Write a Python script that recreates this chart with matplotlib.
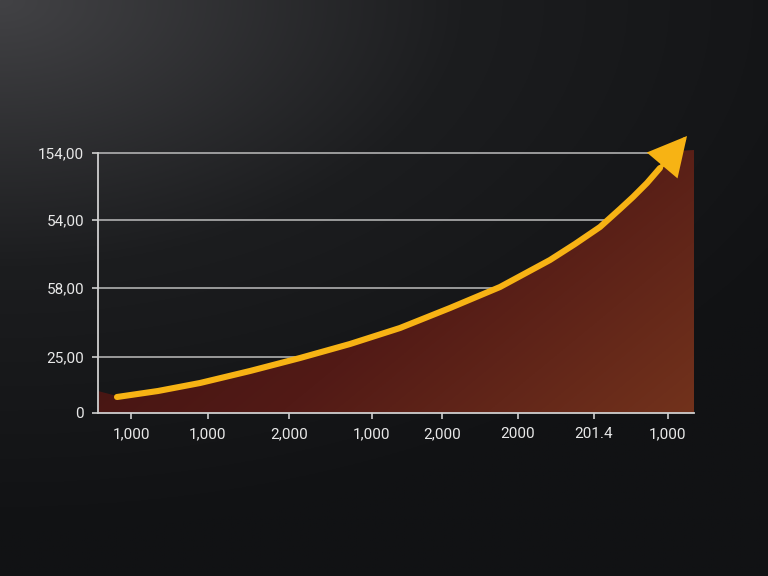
import numpy as np
import matplotlib
matplotlib.use("Agg")
import matplotlib.pyplot as plt
from matplotlib.patches import Polygon

# Data (axis units)
x_tick_pos = [33, 110, 191, 274, 344, 420, 496, 570]
x_tick_labels = ["1,000", "1,000", "2,000", "1,000", "2,000", "2000", "201.4", "1,000"]
y_tick_pos = [0, 56, 125, 193, 260]
y_tick_labels = ["0", "25,00", "58,00", "54,00", "154,00"]

curve_x = [19, 60, 102, 152, 202, 252, 302, 352, 402, 452, 477, 502, 522, 535, 549, 562]
curve_y = [16, 22, 30, 42, 55, 69, 85, 105, 126, 153, 169, 186, 204, 216, 230, 245]
arrow_tip = (589, 277)

fill_x = [0, 19, 60, 102, 152, 202, 252, 302, 352, 402, 452, 477, 502, 522, 535, 549, 562, 578, 596]
fill_y = [22, 17, 23, 31, 43, 56, 70, 86, 106, 127, 154, 170, 187, 205, 217, 231, 246, 262, 263]

W, H = 768, 576
fig = plt.figure(figsize=(W / 100, H / 100), dpi=100)

# background gradient
bg = fig.add_axes([0, 0, 1, 1])
yy, xx = np.mgrid[0:1:300j, 0:1:400j]
d = np.sqrt((xx * 1.0) ** 2 + (yy * 1.3) ** 2)
t = np.clip(d / 1.2, 0, 1)
c0 = np.array([0x42, 0x42, 0x45]) / 255
c1 = np.array([0x1c, 0x1d, 0x1f]) / 255
c2 = np.array([0x11, 0x12, 0x14]) / 255
img = np.where(t[..., None] < 0.5,
               c0 + (c1 - c0) * (t[..., None] / 0.5),
               c1 + (c2 - c1) * ((t[..., None] - 0.5) / 0.5))
bg.imshow(img, extent=[0, 1, 0, 1], origin="upper", aspect="auto")
bg.set_axis_off()

ax = fig.add_axes([98 / W, (H - 413) / H, 596 / W, 265 / H])
ax.set_facecolor("none")
ax.set_xlim(0, 596)
ax.set_ylim(0, 265)

# gradient fill clipped to area polygon
gx, gy = np.meshgrid(np.linspace(0, 1, 300), np.linspace(0, 1, 200))
ca = np.array([0x3a, 0x10, 0x10]) / 255
cm = np.array([0x52, 0x1a, 0x16]) / 255
cb = np.array([0x72, 0x32, 0x1c]) / 255
tt = np.clip(0.65 * gx + 0.35 * gy, 0, 1)
grad = np.where(tt[..., None] < 0.55,
                ca + (cm - ca) * (tt[..., None] / 0.55),
                cm + (cb - cm) * ((tt[..., None] - 0.55) / 0.45))
im = ax.imshow(grad, extent=[0, 596, 0, 265], origin="upper", aspect="auto", zorder=1)
poly_pts = list(zip(fill_x, fill_y)) + [(596, 0), (0, 0)]
poly = Polygon(poly_pts, closed=True, facecolor="none", edgecolor="none")
ax.add_patch(poly)
im.set_clip_path(poly)

# grid lines
for yv in y_tick_pos[1:]:
    ax.axhline(yv, color="#bdbdbd", lw=1.1, zorder=0.5)

# curve
col = "#f7b314"
ax.plot(curve_x, curve_y, color=col, lw=4.4, solid_capstyle="round",
        solid_joinstyle="round", zorder=3, clip_on=False)
ax.annotate("", xy=arrow_tip, xytext=(curve_x[-1], curve_y[-1]),
            arrowprops=dict(arrowstyle="-|>,head_length=1.15,head_width=0.6", color=col, lw=3.0,
                            mutation_scale=20, shrinkA=0, shrinkB=0, joinstyle="miter"),
            annotation_clip=False, zorder=4)

for s in ["top", "right"]:
    ax.spines[s].set_visible(False)
for s in ["left", "bottom"]:
    ax.spines[s].set_color("#cfcfcf")
    ax.spines[s].set_linewidth(1.3)
    ax.spines[s].set_zorder(5)
ax.spines["left"].set_bounds(0, 260)

ax.set_xticks(x_tick_pos)
ax.set_xticklabels(x_tick_labels)
ax.set_yticks(y_tick_pos)
ax.set_yticklabels(y_tick_labels)
ax.tick_params(axis="x", colors="#cfcfcf", labelcolor="#e8e8e8", length=4, width=1.2, pad=6, labelsize=11)
ax.tick_params(axis="y", colors="#cfcfcf", labelcolor="#e8e8e8", length=4, width=1.2, pad=6, labelsize=11)
for lab in ax.get_xticklabels() + ax.get_yticklabels():
    lab.set_fontfamily("Roboto")

fig.savefig("out.png", dpi=100)
